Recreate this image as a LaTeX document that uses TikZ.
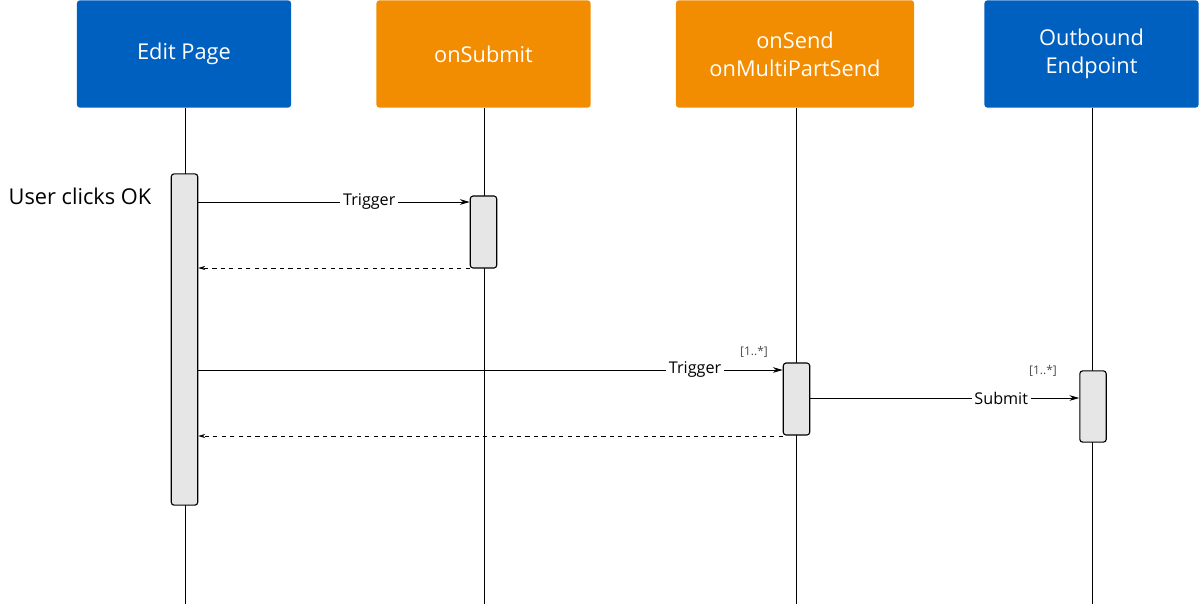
\documentclass[tikz,border=0pt]{standalone}
\usepackage{fontspec}
\setmainfont{Open Sans}
\usetikzlibrary{arrows.meta,positioning}
\definecolor{hblue}{HTML}{0060C0}
\definecolor{horange}{HTML}{F28C00}
\definecolor{actgray}{HTML}{E6E6E6}
\tikzset{
  head/.style={rounded corners=2pt,minimum width=5.35cm,minimum height=2.68cm,align=center,text=white,font=\fontsize{15.5}{20}\selectfont},
  act/.style={draw,rounded corners=2pt,fill=actgray,minimum width=0.66cm,line width=0.8pt},
  life/.style={line width=0.5pt},
  msg/.style={-{Stealth[length=7pt,width=4pt]},line width=0.6pt},
  ret/.style={-{Stealth[length=5pt,width=3pt]},dashed,line width=0.6pt},
  lbl/.style={fill=white,font=\fontsize{11.5}{14}\selectfont,inner sep=2pt},
  mult/.style={font=\fontsize{8.5}{10}\selectfont,text=black!70}
}
\begin{document}
\begin{tikzpicture}[x=0.025cm,y=-0.025cm]
\useasboundingbox (0,0) rectangle (1200,604);
        % headers
        \node[head,fill=hblue] (edit) at (184,54) {Edit Page};
        \node[head,fill=horange] (submit) at (483.5,54) {onSubmit};
        \node[head,fill=horange,minimum width=5.95cm] (send) at (795,54) {onSend\\onMultiPartSend};
        \node[head,fill=hblue] (outb) at (1091.5,54) {Outbound\\Endpoint};

        % lifelines
        \coordinate (editE) at (185,604);
        \coordinate (submitE) at (484,604);
        \coordinate (sendE) at (796,604);
        \coordinate (outbE) at (1092,604);
        \draw[life] (edit.south -| editE) -- (editE);
        \draw[life] (submit.south -| submitE) -- (submitE);
        \draw[life] (send.south -| sendE) -- (sendE);
        \draw[life] (outb.south -| outbE) -- (outbE);

        % activations
        \node[act,minimum height=8.28cm] (editA) at (184.5,339.5) {};
        \node[act,minimum height=1.8cm] (submitA) at (483.5,232) {};
        \node[act,minimum height=1.8cm] (sendA) at (796.5,399) {};
        \node[act,minimum height=1.78cm] (outbA) at (1093,406.5) {};

        \node[font=\fontsize{15.5}{20}\selectfont] (user) at (80,196) {User clicks OK};

        % messages
        \draw[msg] (editA.east |- 0,202) -- node[lbl,pos=0.63] (trig1) {Trigger} (submitA.west |- 0,202);
        \draw[ret] (submitA.west |- 0,268) -- (editA.east |- 0,268);
        \draw[msg] (editA.east |- 0,370) -- node[lbl,pos=0.85] (trig2) {Trigger} (sendA.west |- 0,370);
        \node[mult] (m1) at (754,352) {[1..*]};
        \draw[ret] (sendA.west |- 0,436) -- (editA.east |- 0,436);
        \draw[msg] (sendA.east |- 0,398) -- node[lbl,pos=0.71] (sub) {Submit} (outbA.west |- 0,398);
        \node[mult] (m2) at (1043,371) {[1..*]};
\end{tikzpicture}
\end{document}
